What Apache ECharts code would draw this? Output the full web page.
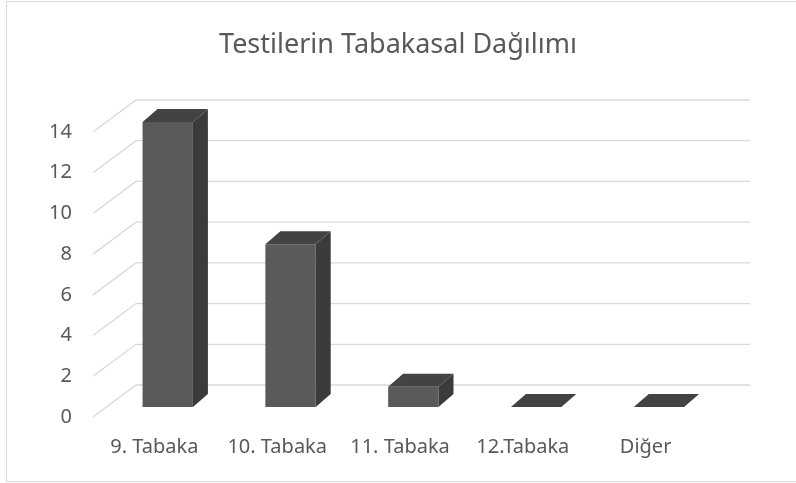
<!DOCTYPE html>
<html>
<head>
<meta charset="utf-8">
<script src="https://cdn.jsdelivr.net/npm/echarts@6/dist/echarts.min.js"></script>
<style>
  html, body { margin: 0; padding: 0; background: #fff; }
  #chart { position: absolute; left: 0; top: 0; width: 796px; height: 483px; }
  #frame { position: absolute; left: 6px; top: 1px; width: 800px; height: 479px;
           border: 1px solid #d9d9d9; pointer-events: none; }
</style>
</head>
<body>
<div id="chart"></div>
<div id="frame"></div>
<script>
// veriler
var categories = ['9. Tabaka', '10. Tabaka', '11. Tabaka', '12.Tabaka', 'Diğer']
var values = [14, 8, 1, 0, 0]
var yTicks = [0, 2, 4, 6, 8, 10, 12, 14]

// 3B görünüm ayarları (piksel)
var DEPTH_X = 43
var DEPTH_Y = 32
var BAR_FRONT = 0.31   // çubuğun ön yüzü, derinlik oranı
var BAR_DX = 15
var BAR_DY = 13

var chart = echarts.init(document.getElementById('chart'))

function renderWalls(params, api) {
  var p = api.coord([0, api.value(1)])
  var band = api.size([1, 0])[0]
  var xl = p[0] - band / 2
  var xr = xl + band * categories.length
  var style = { stroke: '#d9d9d9', lineWidth: 1.3, fill: null }
  return {
    type: 'group',
    children: [
      { type: 'polyline', shape: { points: [[xl, p[1]], [xl + DEPTH_X, p[1] - DEPTH_Y], [xr + DEPTH_X, p[1] - DEPTH_Y]] }, style: style }
    ]
  }
}

function renderBar(params, api) {
  var idx = api.value(0)
  var base = api.coord([idx, 0])
  var top = api.coord([idx, api.value(1)])
  var band = api.size([1, 0])[0]
  var bw = band * 0.41
  var ox = DEPTH_X * BAR_FRONT
  var oy = -DEPTH_Y * BAR_FRONT
  var xl = base[0] + ox - bw / 2
  var xr = xl + bw
  var yb = base[1] + oy
  var yt = top[1] + oy
  var kids = []
  if (yb - yt > 0.5) {
    kids.push({ type: 'rect', shape: { x: xl, y: yt, width: bw, height: yb - yt }, style: { fill: '#5a5a5a' } })
    kids.push({ type: 'polygon', shape: { points: [[xr, yt], [xr + BAR_DX, yt - BAR_DY], [xr + BAR_DX, yb - BAR_DY], [xr, yb]] }, style: { fill: '#3b3b3b' } })
  }
  kids.push({ type: 'polygon', shape: { points: [[xl, yt], [xr, yt], [xr + BAR_DX, yt - BAR_DY], [xl + BAR_DX, yt - BAR_DY]] }, style: { fill: '#434343' } })
  return { type: 'group', children: kids }
}

var option = {
  backgroundColor: '#fff',
  animation: false,
  textStyle: { fontFamily: 'Noto Sans' },
  title: {
    text: 'Testilerin Tabakasal Dağılımı',
    left: 'center',
    top: 27,
    textStyle: { fontSize: 27, fontWeight: 'normal', color: '#595959', fontFamily: 'Noto Sans' }
  },
  grid: { left: 93, top: 132, width: 614, height: 285 },
  xAxis: {
    type: 'category',
    data: categories,
    axisLine: { show: false },
    axisTick: { show: false },
    axisLabel: { fontSize: 20, color: '#595959', margin: 20, interval: 0 }
  },
  yAxis: {
    type: 'value',
    min: 0,
    max: 14,
    interval: 2,
    axisLine: { show: false },
    axisTick: { show: false },
    splitLine: { show: false },
    axisLabel: { fontSize: 20, color: '#595959', margin: 21 }
  },
  series: [
    {
      type: 'custom',
      renderItem: renderWalls,
      data: yTicks.map(function (v) { return [0, v] }),
      z: 1,
      silent: true
    },
    {
      type: 'custom',
      renderItem: renderBar,
      data: values.map(function (v, i) { return [i, v] }),
      z: 2
    }
  ]
}

chart.setOption(option)
</script>
</body>
</html>
